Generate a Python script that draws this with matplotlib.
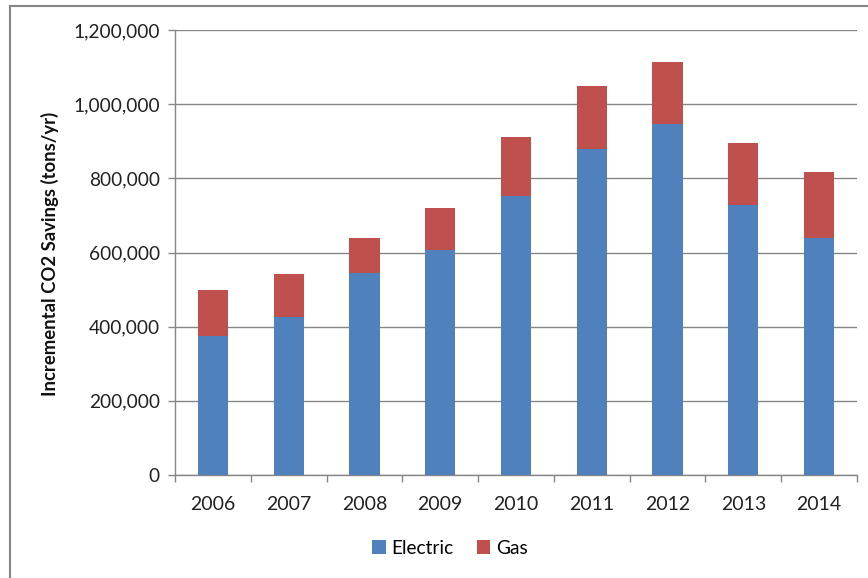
import matplotlib.pyplot as plt
from matplotlib.lines import Line2D
from matplotlib.ticker import FuncFormatter

# values (tons/yr)
years = ['2006', '2007', '2008', '2009', '2010', '2011', '2012', '2013', '2014']
electric = [375000, 426000, 544000, 608000, 752000, 878000, 947000, 727000, 638000]
gas = [125000, 116000, 94000, 113000, 159000, 171000, 166000, 168000, 180000]

blue = '#4F81BD'
red = '#C0504D'
grey = '#868686'

plt.rcParams['font.family'] = ['Lato', 'DejaVu Sans']

W, H = 868, 578
fig = plt.figure(figsize=(W / 100, H / 100), dpi=100)
ax = fig.add_axes([175 / W, 1 - 475 / H, (857 - 175) / W, (475 - 30) / H])

x = range(len(years))
ax.bar(x, electric, width=0.4, color=blue, label='Electric', zorder=3)
ax.bar(x, gas, width=0.4, bottom=electric, color=red, label='Gas', zorder=3)

ax.set_xlim(-0.5, len(years) - 0.5)
ax.set_ylim(0, 1200000)
ax.set_yticks(range(0, 1200001, 200000))
ax.yaxis.set_major_formatter(FuncFormatter(lambda v, p: f'{int(v):,}'))
ax.set_xticks(list(x))
ax.set_xticklabels(years)
ax.set_xticks([i - 0.5 for i in range(len(years) + 1)], minor=True)
ax.tick_params(axis='x', which='major', length=0, pad=15, labelsize=14, labelcolor='#222222')
ax.tick_params(axis='x', which='minor', length=5, color=grey, width=1)
ax.tick_params(axis='y', length=5, color=grey, width=1, pad=6, labelsize=13.8, labelcolor='#222222')

ax.grid(axis='y', color=grey, linewidth=1, zorder=0)
for side in ['top', 'right']:
    ax.spines[side].set_visible(False)
for side in ['left', 'bottom']:
    ax.spines[side].set_color(grey)
    ax.spines[side].set_linewidth(1)

fig.text(50 / W, 1 - 254 / H, 'Incremental CO2 Savings (tons/yr)', rotation=90,
         ha='center', va='center', fontsize=13.3, fontweight='bold', color='#111111')

ax.legend(loc='center', bbox_to_anchor=(450 / W, 1 - 548 / H), bbox_transform=fig.transFigure,
          ncol=2, frameon=False, fontsize=13.8, handlelength=0.7, handleheight=0.7,
          handletextpad=0.3, columnspacing=1.2)

# chart border (only top and left edges visible)
fig.add_artist(Line2D([9.5 / W, 1], [1 - 6 / H, 1 - 6 / H], color=grey, linewidth=1.5))
fig.add_artist(Line2D([9.5 / W, 9.5 / W], [0, 1 - 6 / H], color=grey, linewidth=1.5))

fig.savefig('out.png', dpi=100)
